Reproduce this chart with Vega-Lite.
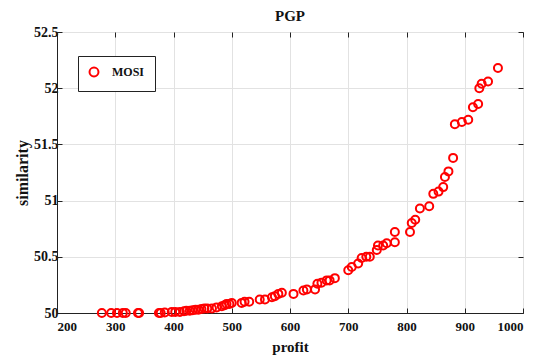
{
  "$schema": "https://vega.github.io/schema/vega-lite/v6.json",
  "width": 466,
  "height": 281,
  "autosize": {"type": "none"},
  "padding": {"left": 57, "top": 32, "right": 13, "bottom": 43},
  "background": "white",
  "title": {"text": "PGP", "font": "Liberation Serif", "fontSize": 15, "fontWeight": "bold", "color": "#111", "offset": 1},
  "config": {
    "view": {"stroke": "#222", "strokeWidth": 1},
    "axis": {"labelFont": "Liberation Serif", "labelFontWeight": "bold", "labelFontSize": 13, "labelColor": "#111",
             "titleFont": "Liberation Serif", "titleFontWeight": "bold", "titleFontSize": 15, "titleColor": "#111",
             "gridColor": "#e2e2e2", "gridWidth": 1, "domainColor": "#222", "tickColor": "#222", "tickSize": -5}
  },
  "data": {"values": [
    {"profit": 277, "similarity": 50.0, "series": "MOSI"},
    {"profit": 293, "similarity": 50.0, "series": "MOSI"},
    {"profit": 303, "similarity": 50.0, "series": "MOSI"},
    {"profit": 313, "similarity": 50.0, "series": "MOSI"},
    {"profit": 318, "similarity": 50.0, "series": "MOSI"},
    {"profit": 339, "similarity": 50.0, "series": "MOSI"},
    {"profit": 341, "similarity": 50.0, "series": "MOSI"},
    {"profit": 375, "similarity": 50.0, "series": "MOSI"},
    {"profit": 378, "similarity": 50.0, "series": "MOSI"},
    {"profit": 385, "similarity": 50.005, "series": "MOSI"},
    {"profit": 397, "similarity": 50.01, "series": "MOSI"},
    {"profit": 403, "similarity": 50.01, "series": "MOSI"},
    {"profit": 411, "similarity": 50.01, "series": "MOSI"},
    {"profit": 418, "similarity": 50.015, "series": "MOSI"},
    {"profit": 422, "similarity": 50.02, "series": "MOSI"},
    {"profit": 428, "similarity": 50.02, "series": "MOSI"},
    {"profit": 433, "similarity": 50.025, "series": "MOSI"},
    {"profit": 438, "similarity": 50.03, "series": "MOSI"},
    {"profit": 443, "similarity": 50.03, "series": "MOSI"},
    {"profit": 448, "similarity": 50.035, "series": "MOSI"},
    {"profit": 453, "similarity": 50.04, "series": "MOSI"},
    {"profit": 458, "similarity": 50.04, "series": "MOSI"},
    {"profit": 466, "similarity": 50.04, "series": "MOSI"},
    {"profit": 474, "similarity": 50.05, "series": "MOSI"},
    {"profit": 483, "similarity": 50.06, "series": "MOSI"},
    {"profit": 488, "similarity": 50.07, "series": "MOSI"},
    {"profit": 491, "similarity": 50.08, "series": "MOSI"},
    {"profit": 496, "similarity": 50.08, "series": "MOSI"},
    {"profit": 500, "similarity": 50.09, "series": "MOSI"},
    {"profit": 517, "similarity": 50.09, "series": "MOSI"},
    {"profit": 522, "similarity": 50.1, "series": "MOSI"},
    {"profit": 530, "similarity": 50.1, "series": "MOSI"},
    {"profit": 548, "similarity": 50.12, "series": "MOSI"},
    {"profit": 557, "similarity": 50.12, "series": "MOSI"},
    {"profit": 569, "similarity": 50.14, "series": "MOSI"},
    {"profit": 574, "similarity": 50.15, "series": "MOSI"},
    {"profit": 580, "similarity": 50.17, "series": "MOSI"},
    {"profit": 586, "similarity": 50.18, "series": "MOSI"},
    {"profit": 606, "similarity": 50.17, "series": "MOSI"},
    {"profit": 623, "similarity": 50.2, "series": "MOSI"},
    {"profit": 629, "similarity": 50.21, "series": "MOSI"},
    {"profit": 643, "similarity": 50.21, "series": "MOSI"},
    {"profit": 647, "similarity": 50.26, "series": "MOSI"},
    {"profit": 654, "similarity": 50.27, "series": "MOSI"},
    {"profit": 663, "similarity": 50.29, "series": "MOSI"},
    {"profit": 668, "similarity": 50.29, "series": "MOSI"},
    {"profit": 677, "similarity": 50.31, "series": "MOSI"},
    {"profit": 700, "similarity": 50.38, "series": "MOSI"},
    {"profit": 706, "similarity": 50.41, "series": "MOSI"},
    {"profit": 717, "similarity": 50.44, "series": "MOSI"},
    {"profit": 723, "similarity": 50.49, "series": "MOSI"},
    {"profit": 731, "similarity": 50.5, "series": "MOSI"},
    {"profit": 737, "similarity": 50.5, "series": "MOSI"},
    {"profit": 749, "similarity": 50.56, "series": "MOSI"},
    {"profit": 751, "similarity": 50.6, "series": "MOSI"},
    {"profit": 760, "similarity": 50.6, "series": "MOSI"},
    {"profit": 766, "similarity": 50.62, "series": "MOSI"},
    {"profit": 780, "similarity": 50.63, "series": "MOSI"},
    {"profit": 780, "similarity": 50.72, "series": "MOSI"},
    {"profit": 806, "similarity": 50.72, "series": "MOSI"},
    {"profit": 809, "similarity": 50.8, "series": "MOSI"},
    {"profit": 815, "similarity": 50.83, "series": "MOSI"},
    {"profit": 823, "similarity": 50.93, "series": "MOSI"},
    {"profit": 839, "similarity": 50.95, "series": "MOSI"},
    {"profit": 846, "similarity": 51.06, "series": "MOSI"},
    {"profit": 855, "similarity": 51.08, "series": "MOSI"},
    {"profit": 863, "similarity": 51.12, "series": "MOSI"},
    {"profit": 866, "similarity": 51.21, "series": "MOSI"},
    {"profit": 872, "similarity": 51.26, "series": "MOSI"},
    {"profit": 880, "similarity": 51.38, "series": "MOSI"},
    {"profit": 883, "similarity": 51.68, "series": "MOSI"},
    {"profit": 895, "similarity": 51.7, "series": "MOSI"},
    {"profit": 906, "similarity": 51.72, "series": "MOSI"},
    {"profit": 914, "similarity": 51.83, "series": "MOSI"},
    {"profit": 923, "similarity": 51.86, "series": "MOSI"},
    {"profit": 925, "similarity": 52.0, "series": "MOSI"},
    {"profit": 929, "similarity": 52.04, "series": "MOSI"},
    {"profit": 940, "similarity": 52.06, "series": "MOSI"},
    {"profit": 957, "similarity": 52.18, "series": "MOSI"}
  ]},
  "layer": [
    {
      "mark": {"type": "point", "shape": "circle", "filled": false, "strokeWidth": 2, "size": 64, "opacity": 1},
      "encoding": {
        "x": {"field": "profit", "type": "quantitative", "scale": {"domain": [200, 1000], "nice": false},
              "axis": {"values": [200, 300, 400, 500, 600, 700, 800, 900, 1000], "format": "d", "title": "profit", "labelPadding": 12, "titlePadding": 6}},
        "y": {"field": "similarity", "type": "quantitative", "scale": {"domain": [50, 52.5], "nice": false, "zero": false},
              "axis": {"values": [50, 50.5, 51, 51.5, 52, 52.5], "format": "~g", "title": "similarity", "labelPadding": 4, "labelFontSize": 14, "titleFontSize": 16, "titlePadding": 3}},
        "color": {"field": "series", "type": "nominal", "scale": {"range": ["#ff0000"]},
                  "legend": {"title": null, "orient": "none", "legendX": 21, "legendY": 24,
                             "strokeColor": "#222", "fillColor": "white", "padding": 10,
                             "labelFont": "Liberation Serif", "labelFontWeight": "bold", "labelFontSize": 12, "labelColor": "#111",
                             "symbolSize": 80, "symbolStrokeWidth": 2, "symbolOpacity": 1, "labelOffset": 12, "cornerRadius": 0}}
      }
    },
    {
      "mark": {"type": "point", "opacity": 0},
      "encoding": {
        "x": {"field": "profit", "type": "quantitative", "scale": {"domain": [200, 1000], "nice": false},
              "axis": {"orient": "top", "values": [200, 300, 400, 500, 600, 700, 800, 900, 1000], "labels": false, "title": null, "grid": false, "domain": false}},
        "y": {"field": "similarity", "type": "quantitative", "scale": {"domain": [50, 52.5], "nice": false, "zero": false},
              "axis": {"orient": "right", "values": [50, 50.5, 51, 51.5, 52, 52.5], "labels": false, "title": null, "grid": false, "domain": false}}
      }
    }
  ],
  "resolve": {"axis": {"x": "independent", "y": "independent"}}
}
